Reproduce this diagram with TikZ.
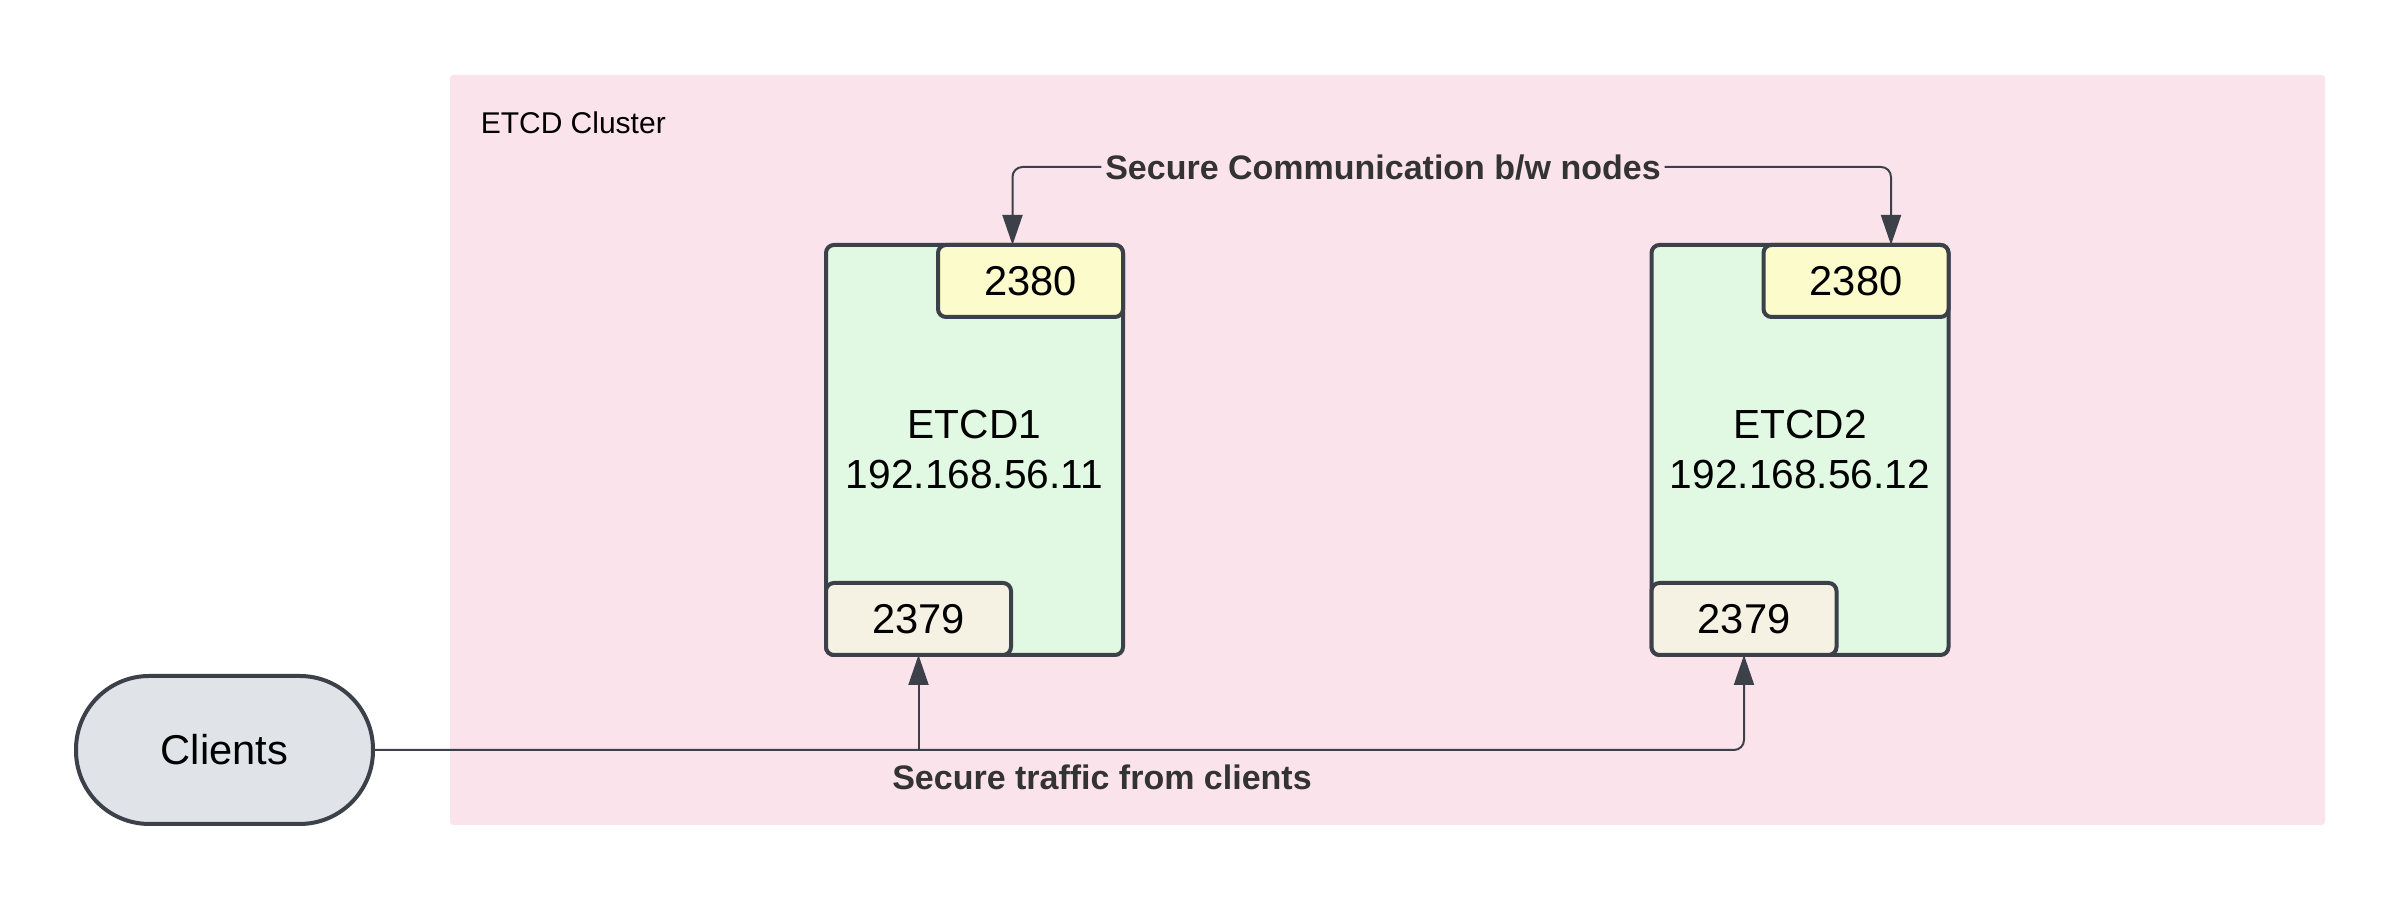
\documentclass[tikz,border=0pt]{standalone}
\usepackage{fontspec}
\setmainfont{Liberation Sans}
\usetikzlibrary{arrows.meta}

\begin{document}
\begin{tikzpicture}[x=0.3pt,y=0.3pt,
  box/.style={draw=strokeColor,line width=1.2pt,rounded corners=2.4pt,inner sep=0pt,outer sep=0pt,
    font=\fontsize{12.5}{15}\selectfont,align=center},
  port/.style={box,minimum width=55.5pt,minimum height=21.6pt},
  conn/.style={draw=strokeColor,line width=0.6pt},
  tip/.style={-{Triangle[width=6pt,length=9pt]}},
  lbl/.style={text=labelColor,font=\fontsize{10.2}{12}\selectfont\bfseries,inner sep=0pt}]
\definecolor{strokeColor}{RGB}{59,64,73}
\definecolor{labelColor}{RGB}{51,51,51}
\definecolor{clusterColor}{RGB}{251,227,235}
\definecolor{nodeColor}{RGB}{225,249,226}
\definecolor{peerColor}{RGB}{252,251,203}
\definecolor{portColor}{RGB}{246,242,227}
\definecolor{clientsColor}{RGB}{224,227,232}
\path[use as bounding box,fill=white] (0,0) rectangle (2400,900);

% cluster
\path[fill=clusterColor,rounded corners=1pt] (450,75) rectangle (2325,825);
\node[anchor=base west,font=\fontsize{9}{11}\selectfont] (clusterlbl) at (469,766) {ETCD Cluster};

% members
\node[box,fill=nodeColor,minimum width=89.1pt,minimum height=123pt,font=\fontsize{12.2}{15}\selectfont] (etcd1) at (974.5,450) {ETCD1\\192.168.56.11};
\node[port,fill=peerColor,anchor=north east] (peer1) at (etcd1.north east) {2380};
\node[port,fill=portColor,anchor=south west] (cport1) at (etcd1.south west) {2379};

\node[box,fill=nodeColor,minimum width=89.1pt,minimum height=123pt,font=\fontsize{12.2}{15}\selectfont] (etcd2) at (1800,450) {ETCD2\\192.168.56.12};
\node[port,fill=peerColor,anchor=north east] (peer2) at (etcd2.north east) {2380};
\node[port,fill=portColor,anchor=south west] (cport2) at (etcd2.south west) {2379};

% clients
\node[box,fill=clientsColor,rounded corners=22pt,minimum width=89.1pt,minimum height=44.4pt] (clients) at (224.5,150) {Clients};

% peer traffic
\node[lbl,text height=7.3pt,text depth=0pt,inner xsep=1pt] (commlbl) at (1383,733) {Secure Communication b/w nodes};
\draw[conn,tip,rounded corners=3pt] (commlbl.west) -| ([xshift=-5.4pt]peer1.north);
\draw[conn,tip,rounded corners=3pt] (commlbl.east) -| ([xshift=10.5pt]peer2.north);

% client traffic
\draw[conn,tip,rounded corners=3pt] (clients.east) -| (cport2.south);
\coordinate (tee1) at (cport1.south |- clients.east);
\draw[conn,tip] (tee1) -- (cport1.south);
\node[lbl,anchor=base] (trafficlbl) at (1102,110) {Secure traffic from clients};
\end{tikzpicture}
\end{document}
